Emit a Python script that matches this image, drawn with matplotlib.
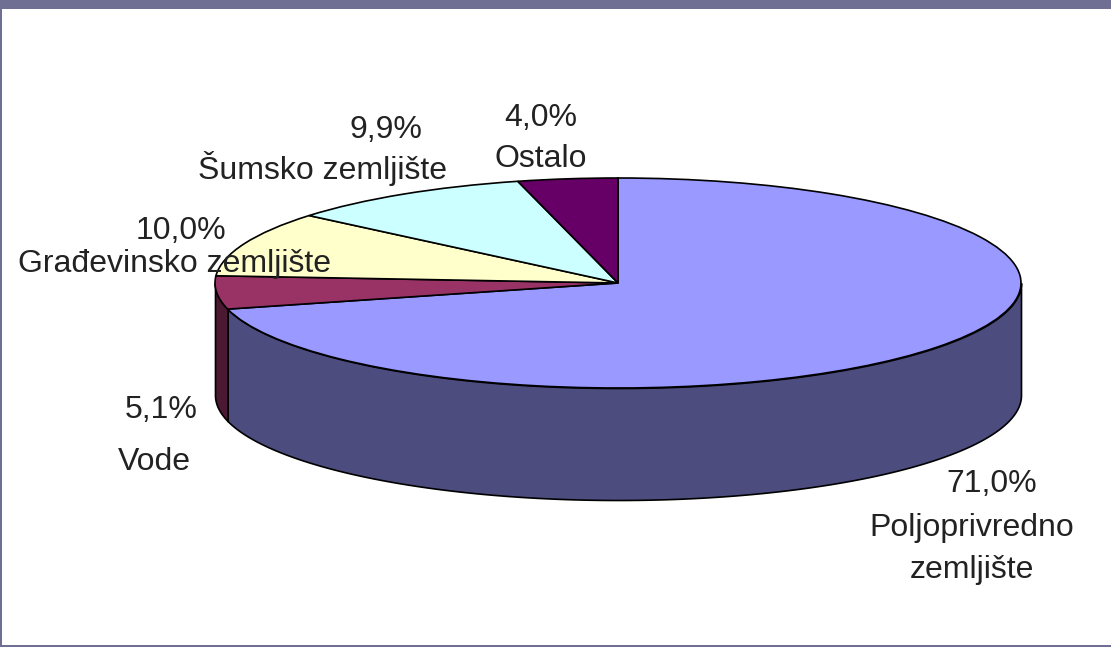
import numpy as np
import matplotlib
matplotlib.use("Agg")
import matplotlib.pyplot as plt
from matplotlib.patches import Rectangle

plt.rcParams['font.family'] = ['Liberation Sans', 'DejaVu Sans']

categories = ["Poljoprivredno\nzemljište", "Vode", "Građevinsko zemljište", "Šumsko zemljište", "Ostalo"]
values = [71.0, 5.1, 10.0, 9.9, 4.0]
percent_labels = ["71,0%", "5,1%", "10,0%", "9,9%", "4,0%"]
top_colors = ["#9999FF", "#993366", "#FFFFCC", "#CCFFFF", "#660066"]
side_colors = ["#4C4C7F", "#4C1933", "#7F7F66", "#667F7F", "#330033"]

W, H = 1111, 647
CX, CY, RX, RY, DEPTH = 618, 283, 403, 105, 112

fig = plt.figure(figsize=(W / 100, H / 100), dpi=100, facecolor="white")
ax = fig.add_axes([0, 0, 1, 1])

# side walls, front half of the disc only
d = DEPTH / RY
start = 90.0
for v, c in zip(values, side_colors):
    end = start - v * 3.6
    a0, a1 = max(end, -180.0), min(start, 0.0)
    if a1 > a0:
        t = np.radians(np.linspace(a0, a1, 200))
        ax.fill_between(np.cos(t), np.sin(t) - d, np.sin(t), color=c, ec="black", lw=1.2, zorder=1)
    start = end

# top of the disc
ax.pie(values, colors=top_colors, startangle=90, counterclock=False, radius=1,
       wedgeprops=dict(edgecolor="black", linewidth=1.2, zorder=2))
ax.set_aspect("auto")
ax.set_xlim(-CX / RX, (W - CX) / RX)
ax.set_ylim(-(H - CY) / RY, CY / RY)
ax.axis("off")


def px(x, y):
    return (x / W, 1 - y / H)


FS = 23
TC = "#222222"
label_pos = [(972, 549), (154, 462), (175, 264), (323, 168), (541, 159)]
pct_pos = [(992, 484), (161, 410), (181, 231), (386, 130), (541, 118)]
for name, p, lp, pp in zip(categories, percent_labels, label_pos, pct_pos):
    fig.text(*px(*lp), name, ha="center", va="center", fontsize=FS, color=TC,
             linespacing=1.5, zorder=5)
    fig.text(*px(*pp), p, ha="center", va="center", fontsize=FS, color=TC, zorder=5)

# slide frame
band = "#6F6F93"
for x, y, w, h in [(0, 0, W, 9), (0, 0, 2, H), (0, H - 2, W, 2)]:
    fig.add_artist(Rectangle((x / W, 1 - (y + h) / H), w / W, h / H, transform=fig.transFigure,
                             fc=band, ec="none", zorder=6))

fig.savefig("out.png", dpi=100)
